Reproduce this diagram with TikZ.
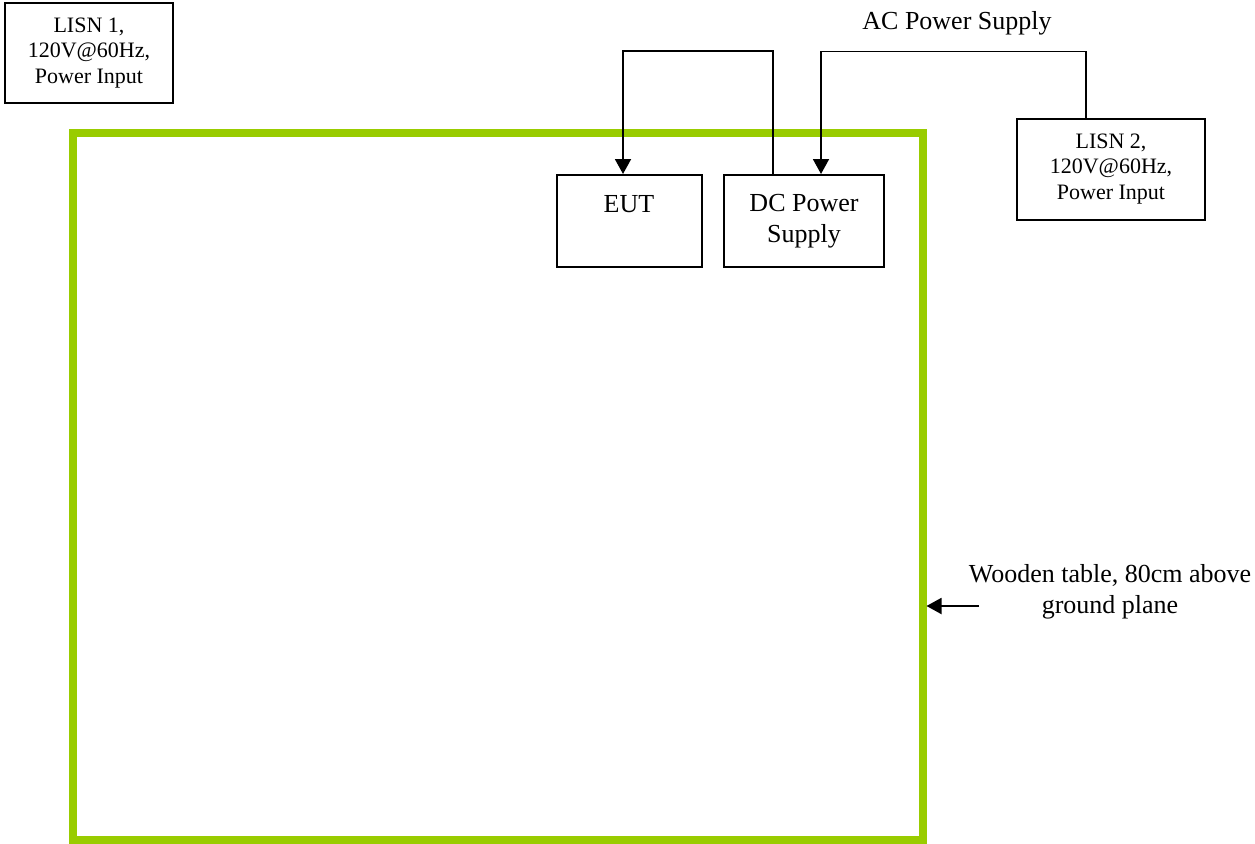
\documentclass[tikz,border=0pt]{standalone}
\usepackage{fontspec}
\setmainfont{Liberation Serif}
\usetikzlibrary{arrows.meta}
\definecolor{tablegreen}{RGB}{153,204,0}
\tikzset{
  box/.style={draw=black, line width=2pt, fill=none, inner sep=0pt, align=center, font=\fontsize{22}{25.5}\selectfont},
  bigbox/.style={box, font=\fontsize{26}{30.5}\selectfont},
  bigtext/.style={inner sep=0pt, align=center, font=\fontsize{26}{30.5}\selectfont},
  tablebox/.style={draw=tablegreen, line width=8pt, inner sep=0pt},
  conn/.style={draw=black, line width=1.9pt, -{Triangle[length=15pt,width=16pt]}},
}
\begin{document}
\begin{tikzpicture}[x=1pt,y=-1pt]
\useasboundingbox (0,0) rectangle (1255,843);
% table
\node[tablebox, minimum width=849.5, minimum height=706.5] (table) at (497.75,486.25) {};
% boxes
\node[box, minimum width=168, minimum height=100] (lisn1) at (89,53) {LISN 1,\\120V@60Hz,\\Power Input};
\node[box, minimum width=188, minimum height=101] (lisn2) at (1111,169) {LISN 2,\\120V@60Hz,\\Power Input};
\node[box, minimum width=145, minimum height=92] (eut) at (629,221) {};
\node[bigtext, anchor=base] (euttext) at (629,212) {EUT};
\node[bigbox, minimum width=160, minimum height=92] (dc) at (804,221) {DC Power\\Supply};
% labels
\node[bigtext, anchor=base] (ac) at (957,30) {AC Power Supply};
\node[bigtext] (wood) at (1110,592) {Wooden table, 80cm above\\ground plane};
% connectors
\draw[conn] ([xshift=-31pt]dc.north) -- ++(0,-123) -| ([xshift=-6pt]eut.north);
\draw[conn] ([xshift=-25pt]lisn2.north) -- ++(0,-66) -| ([xshift=17pt]dc.north);
\coordinate (wt) at (979,606);
\draw[conn] (wt) -- (wt -| table.east);
\end{tikzpicture}
\end{document}
